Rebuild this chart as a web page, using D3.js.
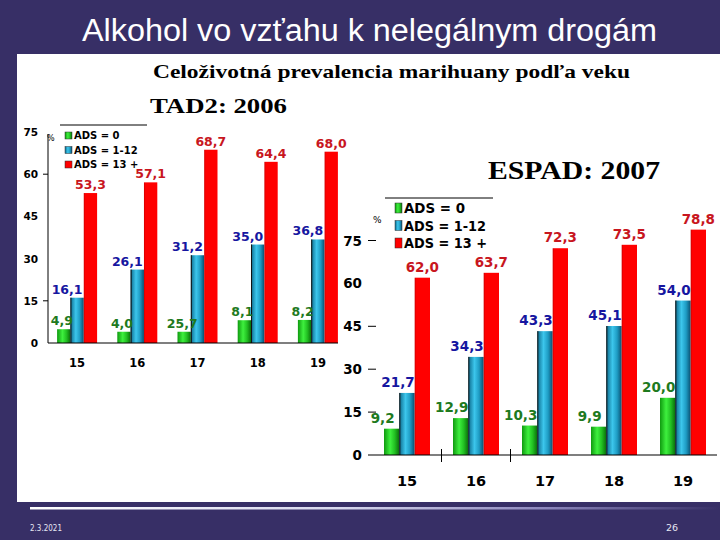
<!DOCTYPE html>
<html><head><meta charset="utf-8">
<script src="https://cdn.jsdelivr.net/npm/d3@7"></script>
<style>html,body{margin:0;padding:0;background:#372f66;}svg{display:block;}</style>
</head><body>
<script>
// ---- data ----
const ages = ["15", "16", "17", "18", "19"];
const seriesNames = ["ADS = 0", "ADS = 1-12", "ADS = 13 +"];
const yTicks = [0, 15, 30, 45, 60, 75];
// TAD2: 2006
const tadAds0 = [4.9, 4.0, 4.0, 8.1, 8.2];
const tadAds0Labels = ["4,9", "4,0", "25,7", "8,1", "8,2"];
const tadAds1 = [16.1, 26.1, 31.2, 35.0, 36.8];
const tadAds13 = [53.3, 57.1, 68.7, 64.4, 68.0];
// ESPAD: 2007
const espAds0 = [9.2, 12.9, 10.3, 9.9, 20.0];
const espAds1 = [21.7, 34.3, 43.3, 45.1, 54.0];
const espAds13 = [62.0, 63.7, 72.3, 73.5, 78.8];

const W = 720, H = 540;
const svg = d3.select("body").append("svg").attr("width", W).attr("height", H);
const defs = svg.append("defs");

function grad(id, stops, x2) {
  const g = defs.append("linearGradient").attr("id", id)
    .attr("x1", "0%").attr("x2", x2 || "100%").attr("y1", "0%").attr("y2", "0%");
  stops.forEach(s => g.append("stop").attr("offset", s[0]).attr("stop-color", s[1]).attr("stop-opacity", s[2] == null ? 1 : s[2]));
}
grad("gGreen", [["0%", "#0f9a0f"], ["40%", "#3ef03e"], ["70%", "#22c022"], ["100%", "#0a6e0a"]]);
grad("gBlue", [["0%", "#0c6a8c"], ["40%", "#3cc6ec"], ["70%", "#1e9cc4"], ["100%", "#0a4f70"]]);
grad("gRed", [["0%", "#d00000"], ["12%", "#ff0000"], ["100%", "#ff0000"]]);
grad("gLine", [["0%", "#ffffff"], ["45%", "#d8d8ee"], ["75%", "#8c86bc"], ["100%", "#372f66"]]);

const fills = ["url(#gGreen)", "url(#gBlue)", "url(#gRed)"];
const labelColors = ["#1e7a1e", "#1616a0", "#c8161e"];
const fmt = v => d3.format(".1f")(v).replace(".", ",");

// background slide
svg.append("rect").attr("width", W).attr("height", H).attr("fill", "#372f66");
svg.append("rect").attr("x", 17).attr("y", 54).attr("width", 703).attr("height", 448).attr("fill", "#ffffff");
svg.append("rect").attr("x", 30).attr("y", 507).attr("width", 690).attr("height", 2.5).attr("fill", "url(#gLine)");

svg.append("text").attr("x", 369.5).attr("y", 41).attr("text-anchor", "middle")
  .attr("font-family", "Liberation Sans, Arial, sans-serif").attr("font-size", 31)
  .attr("fill", "#ffffff").attr("textLength", 575).attr("lengthAdjust", "spacingAndGlyphs")
  .text("Alkohol vo vzťahu k nelegálnym drogám");

svg.append("text").attr("x", 30).attr("y", 531).attr("font-family", "DejaVu Sans, sans-serif")
  .attr("font-size", 9.5).attr("fill", "#e6e6f2").attr("textLength", 32).attr("lengthAdjust", "spacingAndGlyphs").text("2.3.2021");
svg.append("text").attr("x", 666).attr("y", 531).attr("font-family", "DejaVu Sans, sans-serif")
  .attr("font-size", 9.5).attr("fill", "#e6e6f2").text("26");

const serif = "Liberation Serif, Times New Roman, serif";
svg.append("text").attr("x", 153).attr("y", 78).attr("font-family", serif).attr("font-weight", "bold")
  .attr("font-size", 19).attr("textLength", 477).attr("lengthAdjust", "spacingAndGlyphs")
  .text("Celoživotná prevalencia marihuany podľa veku");
svg.append("text").attr("x", 150).attr("y", 113).attr("font-family", serif).attr("font-weight", "bold")
  .attr("font-size", 22).attr("textLength", 137).attr("lengthAdjust", "spacingAndGlyphs").text("TAD2: 2006");
svg.append("text").attr("x", 488).attr("y", 179).attr("font-family", serif).attr("font-weight", "bold")
  .attr("font-size", 25).attr("textLength", 172).attr("lengthAdjust", "spacingAndGlyphs").text("ESPAD: 2007");

const sans = "DejaVu Sans, Verdana, sans-serif";

function drawChart(c) {
  const g = svg.append("g");
  const y = d3.scaleLinear().domain([0, 75]).range([c.y0, c.y75]);
  const x0 = d3.scaleBand().domain(ages).range(c.xRange).padding(0);
  const x1 = d3.scaleBand().domain(seriesNames).range([-c.groupW / 2, c.groupW / 2]).padding(0);
  const data = c.values;

  // y tick labels
  g.selectAll(".yl").data(yTicks).join("text")
    .attr("x", c.yLabelX).attr("y", d => y(d) + c.yLabelDy).attr("text-anchor", "end")
    .attr("font-family", sans).attr("font-weight", "bold").attr("font-size", c.yLabelSize)
    .text(d => d);
  // small tick marks
  g.selectAll(".yt").data(c.tickMarks).join("line")
    .attr("x1", c.tickX1).attr("x2", c.tickX2).attr("y1", d => y(d)).attr("y2", d => y(d))
    .attr("stroke", "#000").attr("stroke-width", 1);
  if (c.axisLine) {
    g.append("line").attr("x1", c.axisX).attr("x2", c.axisX).attr("y1", c.axisTop).attr("y2", y(0))
      .attr("stroke", "#000").attr("stroke-width", 1);
  }
  // bars
  data.forEach((vals, si) => {
    const sg = g.append("g");
    sg.selectAll("rect").data(vals).join("rect")
      .attr("x", (d, i) => x0(ages[i]) + x0.bandwidth() / 2 + x1(seriesNames[si]))
      .attr("y", d => y(d)).attr("width", x1.bandwidth()).attr("height", d => y(0) - y(d))
      .attr("fill", fills[si]);
    if (si === 1) {
      sg.selectAll("line").data(vals).join("line")
        .attr("x1", (d, i) => x0(ages[i]) + x0.bandwidth() / 2 + x1(seriesNames[si]) + 0.5)
        .attr("x2", (d, i) => x0(ages[i]) + x0.bandwidth() / 2 + x1(seriesNames[si]) + 0.5)
        .attr("y1", d => y(d)).attr("y2", y(0)).attr("stroke", "#111").attr("stroke-width", 1);
    }
  });
  // baseline
  g.append("line").attr("x1", c.baseX1).attr("x2", c.baseX2).attr("y1", y(0)).attr("y2", y(0))
    .attr("stroke", "#000").attr("stroke-width", 1.2);
  // separators
  g.selectAll(".sep").data(c.separators).join("line")
    .attr("x1", d => x0(ages[d])).attr("x2", d => x0(ages[d]))
    .attr("y1", y(0) - 6).attr("y2", y(0) + 7).attr("stroke", "#000").attr("stroke-width", 1);
  // x labels
  g.selectAll(".xl").data(ages).join("text")
    .attr("x", d => x0(d) + x0.bandwidth() / 2).attr("y", c.xLabelY).attr("text-anchor", "middle")
    .attr("font-family", sans).attr("font-weight", "bold").attr("font-size", c.xLabelSize).text(d => d);
  // value labels
  data.forEach((vals, si) => {
    g.append("g").selectAll("text").data(vals).join("text")
      .attr("x", (d, i) => x0(ages[i]) + x0.bandwidth() / 2 + x1(seriesNames[si]) + x1.bandwidth() / 2 + c.labelDx[si])
      .attr("y", d => y(d) - c.labelDy).attr("text-anchor", "middle")
      .attr("font-family", sans).attr("font-weight", "bold").attr("font-size", c.labelSize)
      .attr("fill", labelColors[si]).text((d, i) => c.labels ? c.labels[si][i] : fmt(d));
  });
  // percent sign
  g.append("text").attr("x", c.pctX).attr("y", c.pctY).attr("font-family", sans)
    .attr("font-size", c.pctSize).text("%");
  // legend
  const lg = g.append("g");
  lg.append("line").attr("x1", c.legLine[0]).attr("x2", c.legLine[1]).attr("y1", c.legLine[2]).attr("y2", c.legLine[2])
    .attr("stroke", "#000").attr("stroke-width", 1);
  seriesNames.forEach((s, i) => {
    const by = c.legY + i * c.legStep;
    lg.append("rect").attr("x", c.legX).attr("y", by - c.legSq[1]).attr("width", c.legSq[0]).attr("height", c.legSq[1])
      .attr("fill", fills[i]).attr("stroke", "#333").attr("stroke-width", 0.5);
    lg.append("text").attr("x", c.legX + c.legSq[0] + 2).attr("y", by)
      .attr("font-family", sans).attr("font-weight", "bold").attr("font-size", c.legSize)
      .attr("textLength", c.legLen ? c.legLen[i] : null).attr("lengthAdjust", "spacingAndGlyphs")
      .text(s);
  });
}

drawChart({
  values: [tadAds0, tadAds1, tadAds13],
  labels: [tadAds0Labels, tadAds1.map(fmt), tadAds13.map(fmt)],
  y0: 343, y75: 132, xRange: [47, 348], groupW: 40,
  yLabelX: 38, yLabelDy: 4, yLabelSize: 10.5,
  tickMarks: [15, 60], tickX1: 43, tickX2: 48,
  axisLine: true, axisX: 48, axisTop: 134,
  baseX1: 48, baseX2: 338, separators: [],
  xLabelY: 367, xLabelSize: 11.5,
  labelDx: [-2, -10, 0], labelDy: 4, labelSize: 12.5,
  pctX: 47, pctY: 141, pctSize: 8,
  legLine: [60, 147, 125], legX: 65, legY: 139, legStep: 14.5, legSq: [7, 7], legSize: 10,
  legLen: null
});

drawChart({
  values: [espAds0, espAds1, espAds13],
  labels: null,
  y0: 455, y75: 240.5, xRange: [372.5, 717.5], groupW: 46,
  yLabelX: 362, yLabelDy: 5, yLabelSize: 13.5,
  tickMarks: [15, 30, 45, 75], tickX1: 368, tickX2: 376,
  axisLine: false,
  baseX1: 368, baseX2: 717, separators: [1, 2],
  xLabelY: 486, xLabelSize: 14.5,
  labelDx: [-9, -9, 0], labelDy: 6, labelSize: 13.5,
  pctX: 373, pctY: 223, pctSize: 9,
  legLine: [385, 493, 198], legX: 395, legY: 213, legStep: 17.5, legSq: [7, 10], legSize: 14,
  legLen: [61, 82, 83]
});
</script>
</body></html>
